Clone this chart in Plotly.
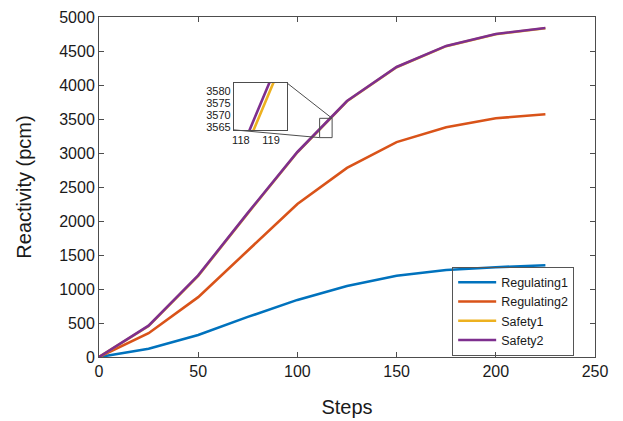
import plotly.graph_objects as go

steps = [0, 25, 50, 75, 100, 125, 150, 175, 200, 225]
regulating1 = [0, 120, 325, 590, 840, 1045, 1195, 1280, 1320, 1350]
regulating2 = [0, 350, 880, 1560, 2250, 2780, 3160, 3380, 3510, 3570]
safety1 = [0, 456, 1193, 2112, 3011, 3761, 4261, 4571, 4746, 4834]
safety2 = [0, 460, 1200, 2120, 3015, 3765, 4265, 4575, 4750, 4838]
names = ["Regulating1", "Regulating2", "Safety1", "Safety2"]
colors = ["#0072BD", "#D95319", "#EDB120", "#7E2F8E"]
series = [regulating1, regulating2, safety1, safety2]

x_ticks = [0, 50, 100, 150, 200, 250]
y_ticks = [0, 500, 1000, 1500, 2000, 2500, 3000, 3500, 4000, 4500, 5000]
inset_x_ticks = [118, 119]
inset_y_ticks = [3565, 3570, 3575, 3580]

XR = [0, 250]
YR = [0, 5000]
IXR = [117.77, 119.53]
IYR = [3563.75, 3583.3]
IDX = [0.272, 0.379]
IDY = [0.668, 0.806]
rect_x = [111.2, 117.5]
rect_y = [3226, 3510]

FONT = "Liberation Sans, Arial, sans-serif"
AX = "#4d4d4d"

fig = go.Figure()
for n, c, s in zip(names, colors, series):
    fig.add_trace(go.Scatter(x=steps, y=s, mode="lines", name=n,
                             line=dict(color=c, width=2.6)))
for n, c, s in zip(names, colors, series):
    fig.add_trace(go.Scatter(x=steps, y=s, mode="lines", name=n, showlegend=False,
                             line=dict(color=c, width=2.6), xaxis="x2", yaxis="y2"))

def px(f):
    return XR[0] + f * (XR[1] - XR[0])

def py(f):
    return YR[0] + f * (YR[1] - YR[0])

shapes = [
    dict(type="rect", xref="x", yref="y", x0=rect_x[0], x1=rect_x[1], y0=rect_y[0], y1=rect_y[1],
         line=dict(color=AX, width=1)),
    dict(type="line", xref="x", yref="y", x0=px(IDX[1]), y0=py(IDY[1]), x1=rect_x[1], y1=rect_y[1],
         line=dict(color=AX, width=1)),
    dict(type="line", xref="x", yref="y", x0=px(IDX[0]), y0=py(IDY[0]), x1=rect_x[0], y1=rect_y[0],
         line=dict(color=AX, width=1)),
]

fig.update_layout(
    width=615, height=413,
    margin=dict(l=91, r=28, t=9, b=64, autoexpand=False),
    paper_bgcolor="white", plot_bgcolor="white",
    font=dict(family=FONT, color="#1a1a1a"),
    showlegend=True,
    legend=dict(x=0.958, y=0.004, xanchor="right", yanchor="bottom",
                bordercolor="#555", borderwidth=1, bgcolor="rgba(255,255,255,0)",
                font=dict(size=12.5, family=FONT), itemwidth=38,
                tracegroupgap=0),
    xaxis=dict(range=XR, tickvals=x_ticks, showgrid=False, zeroline=False, automargin=False,
               showline=True, linecolor=AX, linewidth=1, mirror="ticks",
               ticks="inside", ticklen=5, tickcolor=AX,
               tickfont=dict(size=16), title=dict(text="Steps", font=dict(size=20), standoff=20)),
    yaxis=dict(range=YR, tickvals=y_ticks, showgrid=False, zeroline=False, automargin=False,
               showline=True, linecolor=AX, linewidth=1, mirror="ticks",
               ticks="inside", ticklen=5, tickcolor=AX,
               tickfont=dict(size=16), title=dict(text="Reactivity (pcm)", font=dict(size=20), standoff=22)),
    xaxis2=dict(domain=IDX, anchor="y2", range=IXR, tickvals=inset_x_ticks, showgrid=False,
                zeroline=False, showline=True, linecolor=AX, linewidth=1, mirror=True,
                automargin=False, ticks="", tickfont=dict(size=11)),
    yaxis2=dict(domain=IDY, anchor="x2", range=IYR, tickvals=inset_y_ticks, showgrid=False,
                zeroline=False, showline=True, linecolor=AX, linewidth=1, mirror=True,
                automargin=False, ticks="", tickfont=dict(size=11)),
    shapes=shapes,
)

fig.write_html("out.html")
